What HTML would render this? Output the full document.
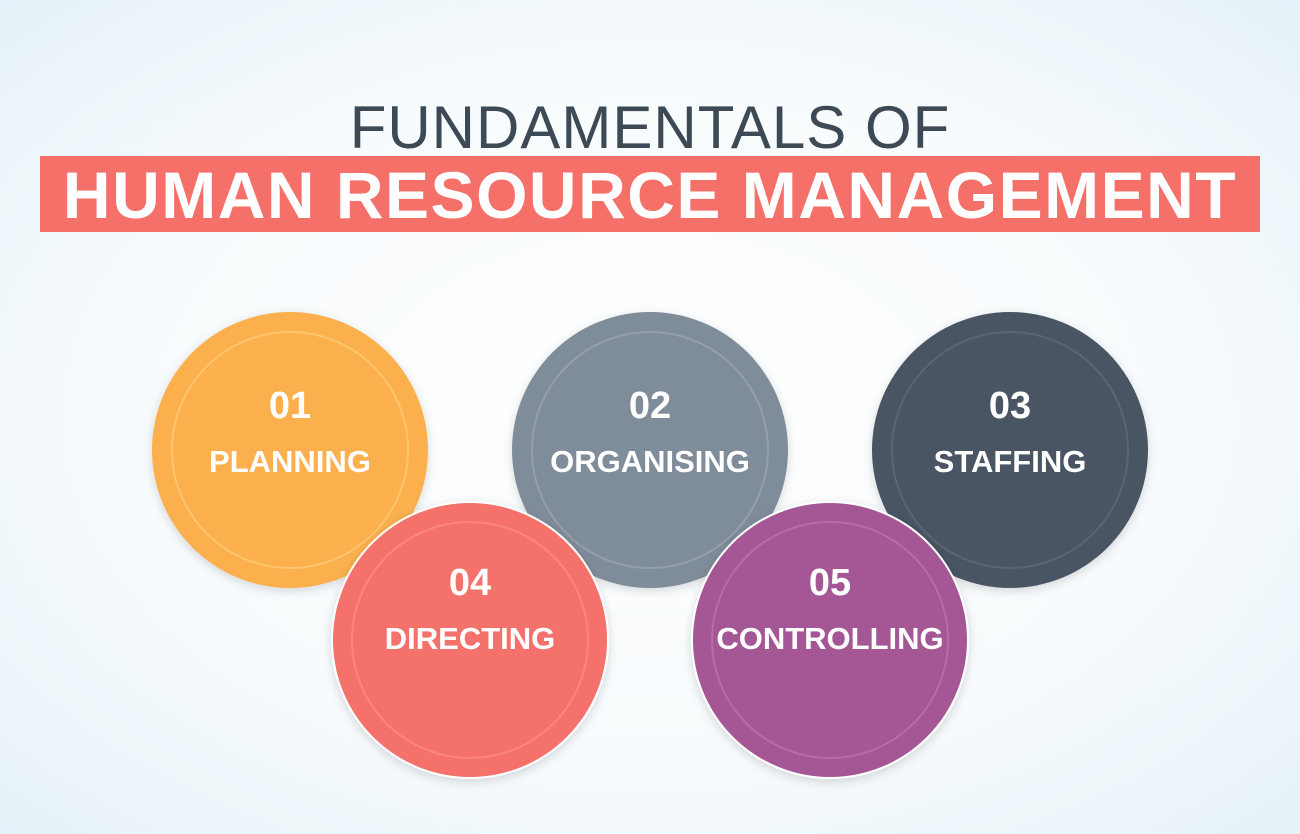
<!DOCTYPE html>
<html><head><meta charset="utf-8"><style>
html,body{margin:0;padding:0}
body{width:1300px;height:834px;overflow:hidden;background:radial-gradient(ellipse 75% 75% at 50% 50%,#ffffff 0%,#f7fbfd 55%,#e2eff7 100%);font-family:"Liberation Sans",sans-serif;position:relative}
.t1{position:absolute;left:0;width:1300px;top:93px;text-align:center;font-size:60px;color:#3d4955;letter-spacing:1px;line-height:70px}
.banner{position:absolute;left:40px;top:156px;width:1220px;height:76px;background:#f47069}
.t2{position:absolute;left:0;width:1300px;top:160px;text-align:center;font-size:66px;font-weight:bold;color:#fff;line-height:70px;letter-spacing:1.5px}
</style></head><body>
<div class="t1">FUNDAMENTALS OF</div>
<div class="banner"></div>
<div class="t2">HUMAN RESOURCE MANAGEMENT</div>
<svg width="1300" height="834" style="position:absolute;left:0;top:0">
<defs><filter id="sh" x="-20%" y="-20%" width="140%" height="140%"><feDropShadow dx="0" dy="3" stdDeviation="5" flood-color="#000" flood-opacity="0.15"/></filter></defs>
<g id="g"></g>
</svg>
<script>
const nums=['01','02','03','04','05'];
const labels=['PLANNING','ORGANISING','STAFFING','DIRECTING','CONTROLLING'];
const colors=['#fbb04e','#7f8c99','#4a5563','#f4716c','#a55795'];
const ring=['#ffc46e','#93a0ac','#5a6573','#ff8580','#b96aa8'];
const cx=[290,650,1010,470,830];
const cy=[450,450,450,640,640];
const g=document.getElementById('g');
const ns='http://www.w3.org/2000/svg';
for(let i=0;i<5;i++){
  const grp=document.createElementNS(ns,'g');
  
  
  const c=document.createElementNS(ns,'circle');
  c.setAttribute('cx',cx[i]);c.setAttribute('cy',cy[i]);c.setAttribute('r',138);
  c.setAttribute('fill',colors[i]);c.setAttribute('filter','url(#sh)');
  if(i>=3){c.setAttribute('stroke','#ffffff');c.setAttribute('stroke-width',2);}
  grp.appendChild(c);
  const r=document.createElementNS(ns,'circle');
  r.setAttribute('cx',cx[i]);r.setAttribute('cy',cy[i]);r.setAttribute('r',118);
  r.setAttribute('fill','none');r.setAttribute('stroke',ring[i]);r.setAttribute('stroke-width',2);
  grp.appendChild(r);
  const dy=i>=3?-13:0;
  const t=document.createElementNS(ns,'text');
  t.setAttribute('x',cx[i]);t.setAttribute('y',cy[i]-32+dy);t.setAttribute('text-anchor','middle');
  t.setAttribute('font-size','38');t.setAttribute('font-weight','bold');t.setAttribute('fill','#fff');
  t.setAttribute('font-family','Liberation Sans, sans-serif');
  
  
  t.textContent=nums[i];grp.appendChild(t);
  const l=document.createElementNS(ns,'text');
  l.setAttribute('x',cx[i]);l.setAttribute('y',cy[i]+22+dy);l.setAttribute('text-anchor','middle');
  l.setAttribute('font-size','31');l.setAttribute('font-weight','bold');l.setAttribute('fill','#fff');
  l.setAttribute('font-family','Liberation Sans, sans-serif');
  
  
  l.textContent=labels[i];grp.appendChild(l);
  g.appendChild(grp);
}
</script>
</body></html>
